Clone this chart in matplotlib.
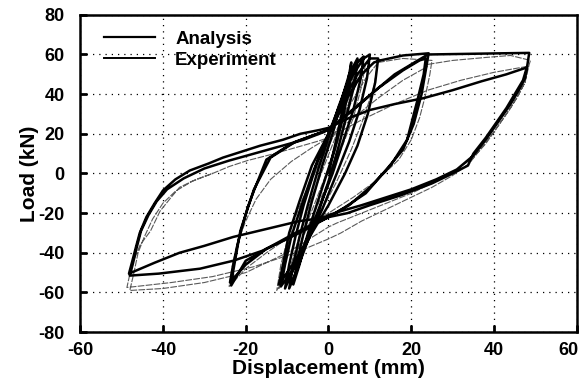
import matplotlib
matplotlib.use("Agg")
import matplotlib.pyplot as plt
import matplotlib.transforms as mtransforms
from matplotlib.lines import Line2D

plt.rcParams['font.family'] = ['Liberation Sans', 'DejaVu Sans']
plt.rcParams['font.weight'] = 'bold'
plt.rcParams['axes.unicode_minus'] = False

# ---- Analysis: small cycles (about +/-5 to +/-12 mm)
ana_small_x = [0, 2, 4, 5.5,
               5, 3.5, 1.5, -1, -3.5, -5.5, -7, -8.5,
               -7.5, -6, -4, -1.5, 1, 3, 5, 7,
               6.4, 4.5, 2.5, 0, -2.5, -5, -7.5, -9.5,
               -8.5, -7, -5, -2.5, 0, 2.5, 5, 7, 8.5,
               7.8, 6, 3.5, 1, -2, -5, -8, -10.5,
               -9.5, -8, -6, -3, 0, 3, 6, 8.5, 10,
               9.3, 7.5, 5, 2, -1.5, -5, -8.5, -11.5,
               -10.5, -9, -6.5, -3.5, 0, 3.5, 7, 10, 12,
               11.3, 9.5, 7, 4, 0, -4, -8, -12,
               -11, -9.5, -7, -4, 0, 4, 8, 11, 12.5]
ana_small_y = [0, 18, 38, 56,
               44, 28, 12, -4, -20, -34, -46, -56,
               -44, -30, -14, 4, 20, 36, 50, 58,
               46, 30, 14, -4, -20, -34, -48, -58,
               -46, -32, -16, 2, 18, 34, 48, 56, 59,
               48, 32, 16, 0, -16, -32, -46, -58,
               -46, -32, -16, 4, 20, 36, 50, 58, 60,
               48, 32, 16, 0, -18, -34, -48, -57,
               -46, -32, -16, 2, 20, 36, 50, 58, 58,
               46, 30, 14, 0, -16, -30, -44, -56,
               -46, -30, -14, 4, 20, 36, 50, 56, 57]

# ---- Analysis: +/-24 mm cycles
ana_mid_x = [12.5, 18, 24.2,
             23.5, 22.5, 20.6, 18, 14, 9, 4, 0, -8, -15, -20, -23.8,
             -23.2, -22, -21, -19.5, -18, -15, -9, -4, 0, 6, 12, 18, 22, 23.5,
             23, 21.5, 19, 15, 10, 5, 0, -7, -15, -20, -23.5,
             -23, -21.3, -18, -14, -8, 0, 8, 16, 24]
ana_mid_y = [57, 59.5, 60.6,
             52, 40, 25, 12, 2, -10, -17, -22, -30, -38, -46, -55,
             -48, -36, -28, -17, -8.6, 7, 15, 19, 22, 32, 43, 52, 57, 58,
             50, 37, 17, 4, -7, -16, -22, -30, -38, -44, -56.5,
             -49, -29, -8, 8, 16, 22, 36, 50, 60]

# ---- Analysis: +/-48 mm cycles
ana_big_x = [24, 30, 36, 42, 48.5,
             48, 47, 45, 43, 41, 38, 35, 33.7, 30, 25, 17.5, 10, 4.6, 0,
             -7, -15, -23, -30, -36, -42, -48.2,
             -47.5, -46.5, -45.6, -44, -42, -40, -37, -33.5, -29, -25.5, -21,
             -16.5, -11, -6.8, -2, 0, 5, 10, 16, 23, 30, 37, 43, 48,
             47.5, 46, 44, 41, 38, 35, 31, 26, 20, 14, 8, 3, 0,
             -5, -10, -16, -23, -31, -41, -48,
             -47.2, -46.3, -45.3, -43.5, -41.5, -39, -35, -30, -24, -18, -12,
             -6, -1]
ana_big_y = [60, 60.2, 60.4, 60.6, 60.8,
             54, 47, 40, 33, 27, 18, 10, 4, 0, -5, -11, -16, -20, -22,
             -24, -28, -32, -36.5, -40, -45, -50.5,
             -45, -37, -30, -22, -15, -8.6, -3, 1.5, 5, 8, 11,
             14, 17, 20, 22, 23, 28, 32, 35, 38, 42, 46.5, 50, 53.5,
             48, 42, 35, 26, 17, 9, 2, -3, -8, -12, -16, -19, -21,
             -27, -33, -39, -44, -48, -50.5, -51.5,
             -45, -37, -29, -21, -14, -8, -2.5, 2.5, 6.5, 10, 13.5,
             17, 21]

# ---- Experiment: small cycles
exp_small_x = [0, 2.5, 4.5, 6.5,
               5.5, 3.5, 1, -2, -5, -7.5, -9.5,
               -8.5, -6.5, -4, -1, 2, 5, 7.5, 9,
               8, 6, 3, 0, -3.5, -7, -10, -12,
               -11, -9, -6, -3, 0.5, 4, 7.5, 10.5, 12,
               11, 8.5, 5.5, 2, -2, -6, -10, -12.5,
               -11.5, -9.5, -6.5, -3, 1, 5, 9, 12]
exp_small_y = [0, 20, 38, 52,
               40, 24, 8, -8, -24, -40, -54,
               -42, -28, -12, 4, 20, 36, 50, 56,
               44, 28, 12, -4, -20, -36, -50, -58,
               -46, -30, -14, 2, 18, 34, 48, 55, 57,
               44, 28, 12, -4, -20, -36, -50, -59,
               -46, -30, -14, 2, 18, 34, 48, 56]

# ---- Experiment: +/-24 mm cycles
exp_mid_x = [12, 18, 25,
             24.5, 23.5, 22, 20, 17, 12, 6, 0, -8, -15, -20, -24,
             -23.2, -22, -20, -17.5, -14, -9, -4, 0, 6, 12, 18, 24]
exp_mid_y = [56, 58, 57,
             50, 40, 28, 17, 7, -3, -12, -20, -30, -40, -48, -57,
             -46, -35, -24, -13, -3, 6, 13, 18, 28, 38, 47, 54]

# ---- Experiment: +/-48 mm cycles
exp_big_x = [24, 30, 38, 44, 48.8,
             48.5, 47.5, 45.5, 43, 40, 37, 34, 30, 25, 20, 14, 8, 3, 0,
             -8, -18, -28, -38, -48.7,
             -47.5, -45.5, -43, -40.7, -38, -36, -32, -28, -24, -19.6, -14,
             -8, -3, 0, 8, 16, 24, 32, 40, 48,
             47.5, 46, 44, 41, 38, 35, 31, 26, 20, 14, 8, 2, 0,
             -10, -20, -30, -40, -48,
             -47, -46, -44.5, -42.5, -40, -37, -33, -28]
exp_big_y = [55, 57, 58.5, 59.5, 57,
             55, 46, 38, 30, 21, 13, 5, -1, -7, -12, -18, -24, -30, -33,
             -40, -47, -52, -55, -57.5,
             -46, -36, -29, -19, -12, -7, -3, 0, 3.5, 6.5, 9.5,
             13, 16, 18, 27, 35, 42, 47, 51, 54,
             46, 40, 33, 24, 15, 8, 2, -4, -10, -15, -20, -25, -27,
             -40, -50, -55, -58, -59,
             -50, -40, -32, -23, -15, -9, -4, 0]

x_ticks = [-60, -40, -20, 0, 20, 40, 60]
y_ticks = [-80, -60, -40, -20, 0, 20, 40, 60, 80]

fig = plt.figure(figsize=(5.85, 3.8), dpi=100)
ax = fig.add_axes([0.137, 0.126, 0.849, 0.835])

exp_style = dict(color='0.35', lw=0.8, dashes=(6, 1.2), solid_joinstyle='round')
for xs, ys in [(exp_small_x, exp_small_y), (exp_mid_x, exp_mid_y), (exp_big_x, exp_big_y)]:
    ax.plot(xs, ys, **exp_style)

ana_style = dict(color='black', lw=1.8, solid_joinstyle='round', solid_capstyle='round')
for xs, ys in [(ana_small_x, ana_small_y), (ana_mid_x, ana_mid_y), (ana_big_x, ana_big_y)]:
    ax.plot(xs, ys, **ana_style)

ax.set_xlim(-60, 60)
ax.set_ylim(-80, 80)
ax.set_xticks(x_ticks)
ax.set_yticks(y_ticks)
ax.grid(True, color='black', linestyle=(0, (1, 4)), linewidth=0.9)
ax.set_axisbelow(True)

for s in ax.spines.values():
    s.set_linewidth(1.8)
ax.tick_params(direction='in', length=5, width=2, labelsize=13)
ax.tick_params(axis='y', pad=11)
ax.tick_params(axis='x', pad=7)
for lab in ax.get_xticklabels() + ax.get_yticklabels():
    lab.set_fontweight('bold')

# keep the last x tick label inside the figure edge
last = ax.get_xticklabels()[-1]
last.set_transform(last.get_transform() +
                   mtransforms.ScaledTranslation(-8 / 100, 0, fig.dpi_scale_trans))

ax.set_xlabel('Displacement (mm)', fontsize=15, fontweight='bold', labelpad=0)
ax.set_ylabel('Load (kN)', fontsize=15, fontweight='bold', labelpad=0)

handles = [Line2D([], [], color='black', lw=1.6), Line2D([], [], color='black', lw=1.4)]
leg = ax.legend(handles, ['Analysis', 'Experiment'], loc='upper left',
                bbox_to_anchor=(0.048, 0.95), frameon=False, handlelength=2.7,
                handletextpad=1.1, labelspacing=0.22, borderpad=0, borderaxespad=0,
                prop={'weight': 'bold', 'size': 13.5})

fig.savefig('out.png', dpi=100)
